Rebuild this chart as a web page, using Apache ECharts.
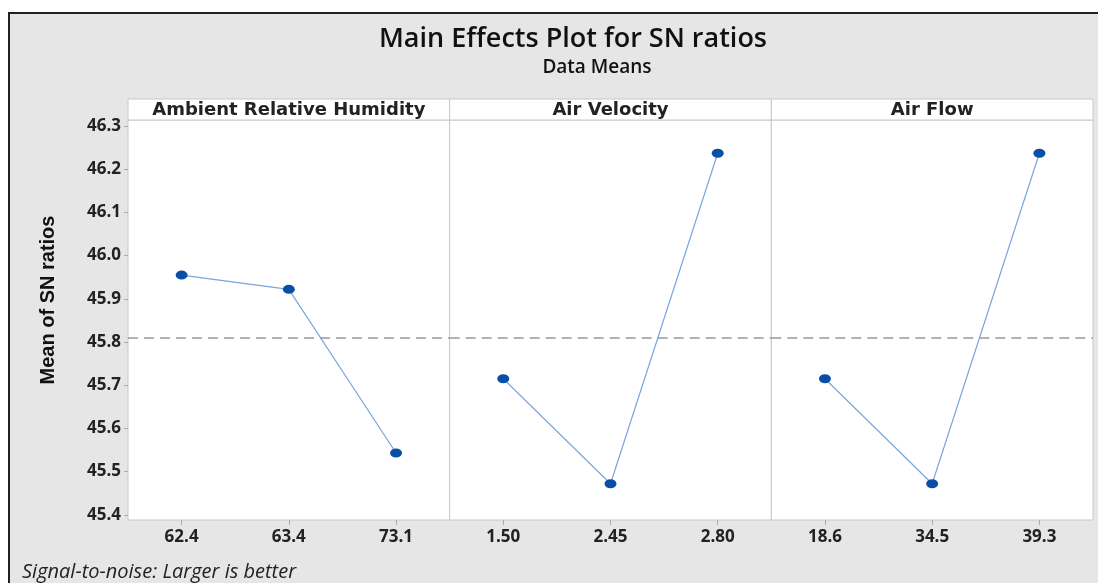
<!DOCTYPE html>
<html>
<head>
<meta charset="utf-8">
<script src="https://cdn.jsdelivr.net/npm/echarts@6/dist/echarts.min.js"></script>
<style>
  html, body { margin: 0; padding: 0; background: #fff; }
  #chart { width: 1098px; height: 583px; }
</style>
</head>
<body>
<div id="chart"></div>
<script>
// factor levels and mean SN ratio per level
const factors = ["Ambient Relative Humidity", "Air Velocity", "Air Flow"];
const humidityLevels = ["62.4", "63.4", "73.1"];
const velocityLevels = ["1.50", "2.45", "2.80"];
const flowLevels = ["18.6", "34.5", "39.3"];
const humidityMeans = [45.955, 45.922, 45.543];
const velocityMeans = [45.715, 45.472, 46.237];
const flowMeans = [45.715, 45.472, 46.237];
const yTicks = [45.4, 45.5, 45.6, 45.7, 45.8, 45.9, 46.0, 46.1, 46.2, 46.3];

const levels = [humidityLevels, velocityLevels, flowLevels];
const means = [humidityMeans, velocityMeans, flowMeans];
const grandMean = humidityMeans.reduce((a, b) => a + b, 0) / humidityMeans.length;

const plotLeft = 128, plotRight = 1093, plotTop = 120, plotBottom = 520;
const panelW = (plotRight - plotLeft) / 3;

var myChart = echarts.init(document.getElementById("chart"));

const grids = [], xAxes = [], yAxes = [], series = [];
const headers = [];
for (let i = 0; i < 3; i++) {
  const left = plotLeft + i * panelW;
  grids.push({
    left: left,
    width: panelW,
    top: plotTop,
    height: plotBottom - plotTop,
    show: true,
    backgroundColor: "#fff",
    borderColor: "#c8c8c8",
    borderWidth: 1,
  });
  xAxes.push({
    type: "category",
    gridIndex: i,
    data: levels[i],
    boundaryGap: true,
    axisLine: { show: false },
    axisTick: { show: true, alignWithLabel: true, length: 5, lineStyle: { color: "#aaa" } },
    axisLabel: {
      color: "#222",
      fontSize: 17,
      fontWeight: "bold",
      fontFamily: "Open Sans",
      margin: 9,
    },
    splitLine: { show: false },
  });
  yAxes.push({
    type: "value",
    gridIndex: i,
    min: 45.388,
    max: 46.314,
    axisLine: { show: false },
    axisTick: { show: i === 0, length: 4, lineStyle: { color: "#aaa" }, customValues: yTicks },
    axisLabel: {
      show: i === 0,
      customValues: yTicks,
      formatter: (v) => v.toFixed(1),
      color: "#222",
      fontSize: 17,
      fontWeight: "bold",
      fontFamily: "Open Sans",
      margin: 7,
    },
    splitLine: { show: false },
  });
  series.push({
    type: "line",
    xAxisIndex: i,
    yAxisIndex: i,
    data: means[i],
    symbol: "circle",
    symbolSize: [12, 9],
    itemStyle: { color: "#0a4fa6" },
    lineStyle: { color: "#7aa6dc", width: 1.2 },
    markLine: {
      silent: true,
      symbol: "none",
      label: { show: false },
      lineStyle: { color: "#999", type: [10, 6], width: 1.5 },
      data: [{ yAxis: grandMean }],
    },
    z: 3,
  });
  headers.push({
    type: "rect",
    shape: { x: left, y: 99, width: panelW, height: plotTop - 99 },
    style: { fill: "#fff", stroke: "#c8c8c8", lineWidth: 1 },
    z: 1,
  });
  headers.push({
    type: "text",
    x: left + panelW / 2,
    y: 110,
    style: {
      text: factors[i],
      textAlign: "center",
      textVerticalAlign: "middle",
      fill: "#222",
      font: "bold 18px 'DejaVu Sans'",
    },
    z: 2,
  });
}

var option = {
  backgroundColor: "#fff",
  animation: false,
  graphic: [
    {
      type: "rect",
      shape: { x: 9, y: 13, width: 1100, height: 580 },
      style: { fill: "#e6e6e6", stroke: "#222", lineWidth: 2 },
      z: -10,
      silent: true,
    },
    {
      type: "text",
      x: 573,
      y: 39,
      style: {
        text: "Main Effects Plot for SN ratios",
        textAlign: "center",
        textVerticalAlign: "middle",
        fill: "#111",
        font: "600 27px 'Open Sans'",
      },
    },
    {
      type: "text",
      x: 597,
      y: 68,
      style: {
        text: "Data Means",
        textAlign: "center",
        textVerticalAlign: "middle",
        fill: "#111",
        font: "600 19px 'Open Sans'",
      },
    },
    {
      type: "text",
      x: 48,
      y: 300,
      rotation: Math.PI / 2,
      style: {
        text: "Mean of SN ratios",
        textAlign: "center",
        textVerticalAlign: "middle",
        fill: "#111",
        font: "bold 20px 'Liberation Sans'",
      },
    },
    {
      type: "text",
      x: 22,
      y: 572,
      style: {
        text: "Signal-to-noise: Larger is better",
        textAlign: "left",
        textVerticalAlign: "middle",
        fill: "#222",
        font: "italic 20px 'Open Sans'",
      },
    },
  ].concat(headers),
  grid: grids,
  xAxis: xAxes,
  yAxis: yAxes,
  series: series,
};
myChart.setOption(option);
</script>
</body>
</html>
